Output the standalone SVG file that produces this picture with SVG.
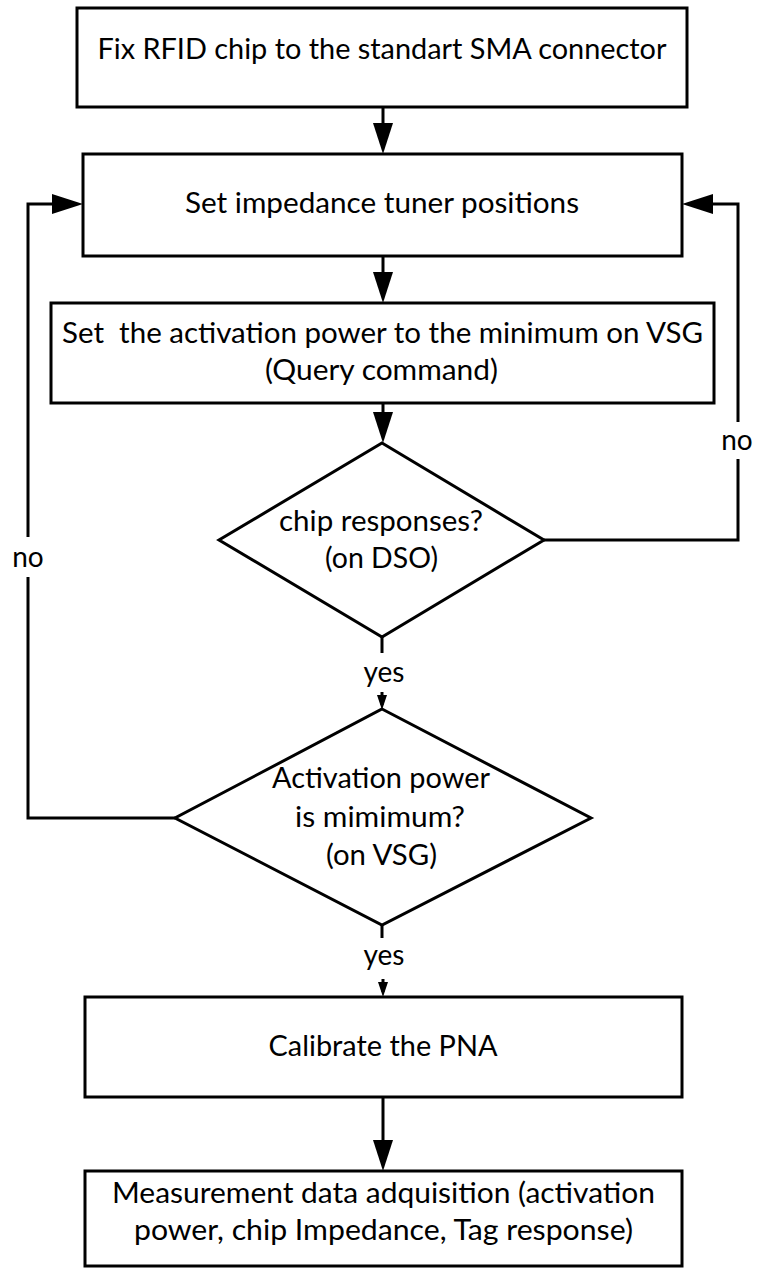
<svg xmlns="http://www.w3.org/2000/svg" width="757" height="1269" viewBox="0 0 757 1269">
<style>
.box{fill:#fff;stroke:#000;stroke-width:3;stroke-linejoin:miter}
.t{font-family:Lato,"Liberation Sans",sans-serif;font-size:28px;fill:#000;text-anchor:middle}
.c{fill:none;stroke:#000;stroke-width:3;stroke-linejoin:miter}
</style>
<defs>
<marker id="big" markerUnits="userSpaceOnUse" markerWidth="32" markerHeight="20" refX="21" refY="10" orient="auto">
<path d="M0,0 L31,10 L0,20 Z" fill="#000"/>
</marker>
<marker id="small" markerUnits="userSpaceOnUse" markerWidth="16" markerHeight="10" refX="10" refY="5" orient="auto">
<path d="M0,0 L15,5 L0,10 Z" fill="#000"/>
</marker>
</defs>
<rect width="757" height="1269" fill="#fff"/>
<g id="connectors">
<line class="c" x1="383" y1="107" x2="383" y2="144" marker-end="url(#big)"/>
<line class="c" x1="383" y1="256" x2="383" y2="293" marker-end="url(#big)"/>
<line class="c" x1="383" y1="403" x2="383" y2="433" marker-end="url(#big)"/>
<line class="c" x1="382" y1="637" x2="382" y2="653"/>
<line class="c" x1="382" y1="692" x2="382" y2="705" marker-end="url(#small)"/>
<line class="c" x1="382" y1="925" x2="382" y2="938"/>
<line class="c" x1="383" y1="979" x2="383" y2="992" marker-end="url(#small)"/>
<line class="c" x1="383" y1="1097" x2="383" y2="1161" marker-end="url(#big)"/>
<polyline class="c" points="544,540 738,540 738,459"/>
<polyline class="c" points="738,422 738,204 692,204" marker-end="url(#big)"/>
<polyline class="c" points="175,818 28,818 28,577"/>
<polyline class="c" points="28,537 28,204 73,204" marker-end="url(#big)"/>
<text class="t" x="384" y="682" textLength="41" lengthAdjust="spacingAndGlyphs">yes</text>
<text class="t" x="384" y="965" textLength="41" lengthAdjust="spacingAndGlyphs">yes</text>
<text class="t" x="737" y="450">no</text>
<text class="t" x="28" y="567">no</text>
</g>
<g id="n1">
<rect class="box" x="77" y="8" width="610" height="99"/>
<text class="t" x="382" y="59" textLength="569" lengthAdjust="spacingAndGlyphs">Fix RFID chip to the standart SMA connector</text>
</g>
<g id="n2">
<rect class="box" x="83" y="154" width="599" height="102"/>
<text class="t" x="382" y="213" textLength="394" lengthAdjust="spacingAndGlyphs">Set impedance tuner positions</text>
</g>
<g id="n3">
<rect class="box" x="51" y="303" width="663" height="100"/>
<text class="t" x="382.5" y="343" xml:space="preserve" style="white-space:pre" textLength="641" lengthAdjust="spacingAndGlyphs">Set  the activation power to the minimum on VSG</text>
<text class="t" x="381.5" y="380" textLength="233" lengthAdjust="spacingAndGlyphs">(Query command)</text>
</g>
<g id="d1">
<polygon class="box" points="382,443 544,540 382,637 219,540"/>
<text class="t" x="381" y="531" textLength="204" lengthAdjust="spacingAndGlyphs">chip responses?</text>
<text class="t" x="381.5" y="568" textLength="113" lengthAdjust="spacingAndGlyphs">(on DSO)</text>
</g>
<g id="d2">
<polygon class="box" points="382,709 591,818 382,925 175,818"/>
<text class="t" x="381" y="788" textLength="218" lengthAdjust="spacingAndGlyphs">Activation power</text>
<text class="t" x="380" y="827" textLength="170" lengthAdjust="spacingAndGlyphs">is mimimum?</text>
<text class="t" x="381.5" y="865" textLength="111" lengthAdjust="spacingAndGlyphs">(on VSG)</text>
</g>
<g id="n4">
<rect class="box" x="85" y="997" width="597" height="100"/>
<text class="t" x="383" y="1056" textLength="229" lengthAdjust="spacingAndGlyphs">Calibrate the PNA</text>
</g>
<g id="n5">
<rect class="box" x="85" y="1171" width="597" height="95"/>
<text class="t" x="383.5" y="1203" textLength="543" lengthAdjust="spacingAndGlyphs">Measurement data adquisition (activation</text>
<text class="t" x="383.5" y="1240" textLength="499" lengthAdjust="spacingAndGlyphs">power, chip Impedance, Tag response)</text>
</g>
</svg>
